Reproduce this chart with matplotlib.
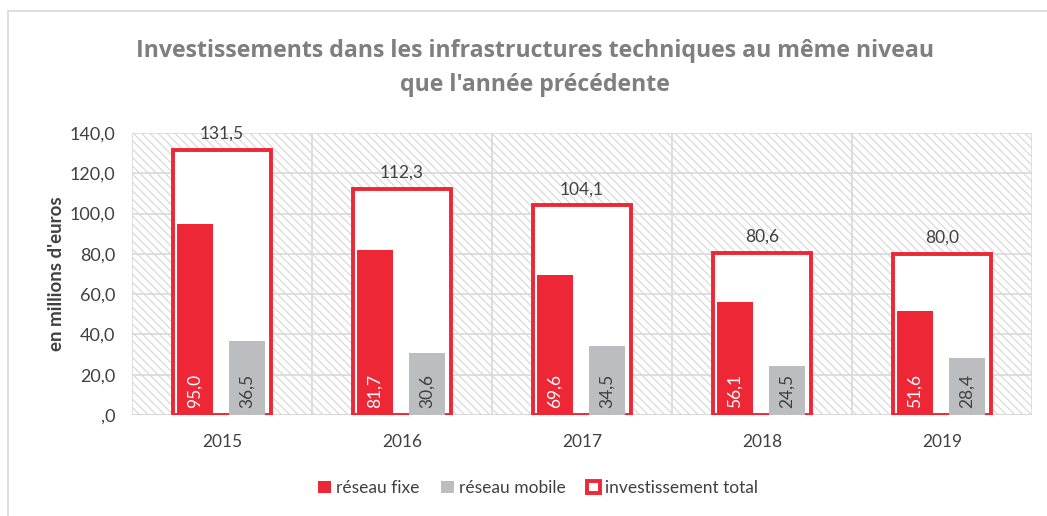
import matplotlib.pyplot as plt
import numpy as np
from matplotlib.patches import Rectangle

plt.rcParams['font.family'] = ['Lato', 'DejaVu Sans']
plt.rcParams['hatch.color'] = '#d0d0d0'
plt.rcParams['hatch.linewidth'] = 0.8

years = ['2015', '2016', '2017', '2018', '2019']
fixe = [95.0, 81.7, 69.6, 56.1, 51.6]
mobile = [36.5, 30.6, 34.5, 24.5, 28.4]
total = [131.5, 112.3, 104.1, 80.6, 80.0]

red = '#ee2737'
grey = '#bcbdc0'
txt = '#404040'

def fr(v):
    s = f'{v:.1f}'.replace('.', ',')
    return s[1:] if s.startswith('0') else s

fig = plt.figure(figsize=(10.47, 5.16), dpi=100)
ax = fig.add_axes([132 / 1047, 101 / 516, 900 / 1047, 282 / 516])

# chart border
fig.patches.append(Rectangle((8 / 1047, -0.1), 1.2, (516 - 11) / 516 + 0.1,
                             transform=fig.transFigure, fill=False,
                             edgecolor='#d9d9d9', lw=1.2))

x = np.arange(len(years))
ax.set_xlim(-0.5, len(years) - 0.5)
ax.set_ylim(0, 140)

# hatched background
ax.add_patch(Rectangle((-0.5, 0), len(years), 140, facecolor='white',
                       edgecolor='#d6d6d6', hatch='\\\\\\\\', lw=0, zorder=0))
for yv in range(20, 141, 20):
    ax.axhline(yv, color='#d9d9d9', lw=1.2, zorder=1)
for xv in np.arange(-0.5, len(years), 1):
    ax.axvline(xv, color='#d9d9d9', lw=1.2, zorder=1)
ax.axhline(0, color='#d9d9d9', lw=1.5, zorder=1)

ax.bar(x, total, width=0.54, facecolor='white', edgecolor=red, lw=2.8,
       zorder=2, label='investissement total')
ax.bar(x - 0.15, fixe, width=0.2, color=red, zorder=3, label='réseau fixe')
ax.bar(x + 0.14, mobile, width=0.2, color=grey, zorder=3, label='réseau mobile')

for i in range(len(years)):
    ax.text(x[i] - 0.15, 3.5, fr(fixe[i]), rotation=90, ha='center', va='bottom',
            color='white', fontsize=12.5, zorder=4)
    ax.text(x[i] + 0.14, 3.5, fr(mobile[i]), rotation=90, ha='center', va='bottom',
            color=txt, fontsize=12.5, zorder=4)
    ax.text(x[i], total[i] + 4, fr(total[i]), ha='center', va='bottom',
            color=txt, fontsize=12.5, zorder=4)

ax.set_yticks(range(0, 141, 20))
ax.set_yticklabels([fr(v) for v in range(0, 141, 20)], fontsize=13, color=txt)
ax.set_xticks(x)
ax.set_xticklabels(years, fontsize=12.5, color=txt)
ax.tick_params(axis='y', length=0, pad=12)
ax.tick_params(axis='x', length=0, pad=14)
for s in ax.spines.values():
    s.set_visible(False)
ax.set_ylabel("en millions d'euros", fontsize=13.5, fontweight='bold', color=txt,
              labelpad=3)

fig.text(535 / 1047, 1 - 68 / 516, "Investissements dans les infrastructures techniques au même niveau\nque l'année précédente",
         ha='center', va='center', fontsize=16.7, fontweight='bold', color='#7f7f7f',
         family=['Open Sans', 'DejaVu Sans'], linespacing=1.55)

h, l = ax.get_legend_handles_labels()
order = [1, 2, 0]
leg = fig.legend([h[k] for k in order], [l[k] for k in order], loc='center',
                 bbox_to_anchor=(538 / 1047, 1 - 488 / 516), ncol=3, frameon=False,
                 fontsize=12.5, handlelength=0.75, handleheight=0.75,
                 handletextpad=0.3, columnspacing=1.2, labelcolor=txt)

fig.savefig('out.png', dpi=100)
